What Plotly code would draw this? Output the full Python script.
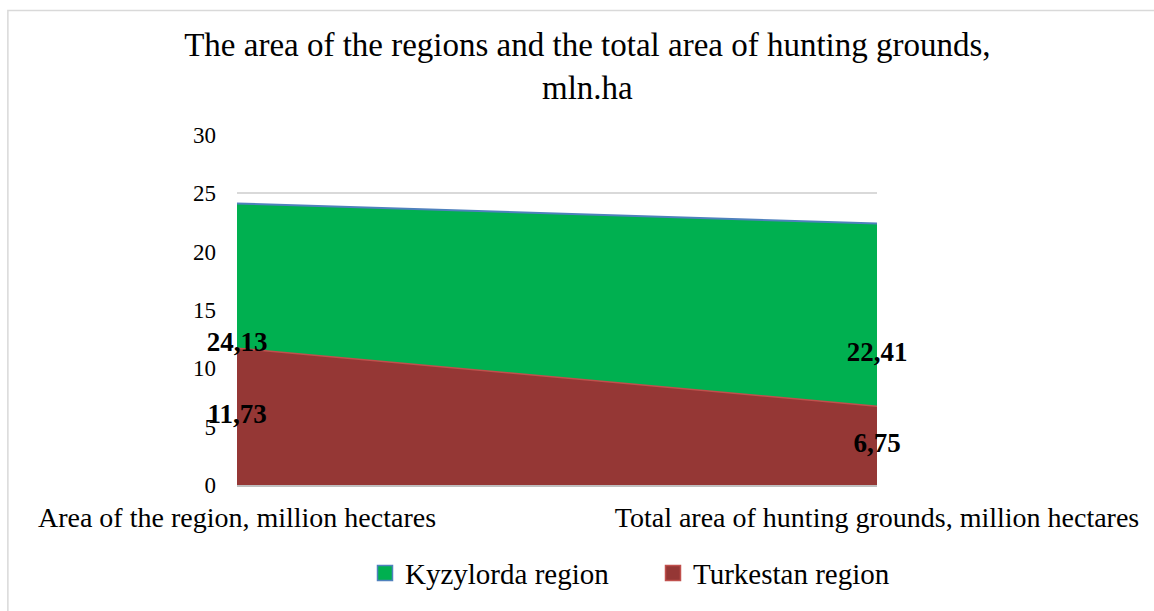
import plotly.graph_objects as go

categories = ["Area of the region, million hectares",
              "Total area of hunting grounds, million hectares"]
kyzylorda = [24.13, 22.41]
turkestan = [11.73, 6.75]
series_names = ["Kyzylorda region", "Turkestan region"]
y_ticks = [0, 5, 10, 15, 20, 25, 30]

FONT = "Liberation Serif"
GREEN = "#00B050"
GREEN_EDGE = "#4F81BD"
RED = "#953735"
RED_EDGE = "#C0504D"

def fmt(v):
    return f"{v:.2f}".replace(".", ",")

fig = go.Figure()

fig.add_trace(go.Scatter(x=categories, y=kyzylorda, mode="lines", fill="tozeroy",
                         fillcolor=GREEN, line=dict(color=GREEN_EDGE, width=2),
                         name=series_names[0], showlegend=False, hoverinfo="skip"))
fig.add_trace(go.Scatter(x=categories, y=turkestan, mode="lines", fill="tozeroy",
                         fillcolor=RED, line=dict(color=RED_EDGE, width=1.5),
                         name=series_names[1], showlegend=False, hoverinfo="skip"))

# data labels (Excel places area labels at mid-height of each series)
for vals in (kyzylorda, turkestan):
    fig.add_trace(go.Scatter(x=categories, y=[v / 2 for v in vals], mode="text",
                             text=[fmt(v) for v in vals], textposition="middle center",
                             textfont=dict(family=FONT, size=27, color="black", weight="bold"),
                             cliponaxis=False, showlegend=False, hoverinfo="skip"))

# legend entries
for name, fc, lc in ((series_names[0], GREEN, GREEN_EDGE), (series_names[1], RED, RED_EDGE)):
    fig.add_trace(go.Scatter(x=[None], y=[None], mode="markers", name=name,
                             marker=dict(symbol="square", size=15, color=fc,
                                         line=dict(color=lc, width=1.5))))

fig.update_layout(
    width=1154, height=611,
    margin=dict(l=237, r=277, t=135, b=122),
    paper_bgcolor="white", plot_bgcolor="white",
    font=dict(family=FONT, color="black"),
    title=dict(text="The area of the regions and the total area of hunting grounds,<br>mln.ha",
               x=0.509, xref="container", xanchor="center",
               y=0.908, yref="container", yanchor="top",
               font=dict(family=FONT, size=33, color="black")),
    xaxis=dict(type="category", range=[0, 1], showgrid=False, showline=True,
               linecolor="#BFBFBF", linewidth=1.5, ticks="", automargin=False,
               tickfont=dict(family=FONT, size=28, color="black"),
               ticklabelstandoff=7, fixedrange=True),
    yaxis=dict(range=[0, 30], tickvals=y_ticks, showgrid=True, gridcolor="#D9D9D9",
               gridwidth=1.5, zeroline=False, showline=False, ticks="", automargin=False,
               tickfont=dict(family=FONT, size=23, color="black"),
               ticklabelstandoff=20, fixedrange=True),
    legend=dict(orientation="h", x=0.2, xanchor="left", y=-0.252, yanchor="middle",
                font=dict(family=FONT, size=29, color="black"),
                itemwidth=30, entrywidth=243, tracegroupgap=0,
                bgcolor="rgba(0,0,0,0)"),
    shapes=[dict(type="rect", xref="paper", yref="paper",
                 x0=-0.358, x1=1.6, y0=-0.5, y1=1.356,
                 line=dict(color="#D9D9D9", width=1.5), fillcolor="rgba(0,0,0,0)",
                 layer="below")],
    showlegend=True,
)

fig.write_html("out.html", config={"displayModeBar": False},
               post_script="document.body.style.margin='0';document.body.style.overflow='hidden';")
